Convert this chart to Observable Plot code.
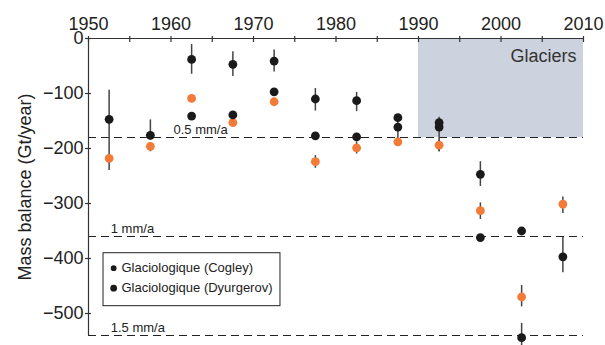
<!DOCTYPE html>
<html>
<head>
<meta charset="utf-8">
<script src="https://cdn.jsdelivr.net/npm/d3@7"></script>
<script src="https://cdn.jsdelivr.net/npm/@observablehq/plot@0.6"></script>
<style>
  html, body { margin: 0; padding: 0; background: #fff; }
  #chart svg { display: block; }
</style>
</head>
<body>
<div id="chart"></div>
<script>
// ---- data ----
const years = [1952.5, 1957.5, 1962.5, 1967.5, 1972.5, 1977.5, 1982.5, 1987.5, 1992.5, 1997.5, 2002.5, 2007.5];
// black series with error bars
const cogley     = [-147, -176, -38, -47, -41, -110, -113, -161, -153, -247, -544, -397];
const cogleyHi   = [-94, -148, -11, -24, -21, -91, -98, -150, -143, -224, -518, -362];
const cogleyLo   = [-240, -185, -65, -69, -61, -132, -133, -186, -206, -269, -560, -426];
// black series without error bars
const dyurgerov  = [NaN, NaN, -141, -139, -97, -177, -179, -144, -161, -362, -350, NaN];
// orange series
const orange     = [-218, -196, -109, -153, -115, -224, -199, -188, -194, -313, -470, -301];
const orangeHi   = [NaN, -190, NaN, NaN, NaN, -213, -188, NaN, -185, -299, -449, -288];
const orangeLo   = [NaN, -206, NaN, NaN, NaN, -236, -210, NaN, -206, -329, -488, -318];

const levels = [-180, -360, -540];
const levelLabels = ["0.5 mm/a", "1 mm/a", "1.5 mm/a"];
const levelLabelX = [1960.3, 1952.7, 1952.7];

const xTicks5 = d3.range(1950, 2011, 5);
const xTicks10 = d3.range(1950, 2011, 10);
const yTicks = [0, -100, -200, -300, -400, -500];

const legendNames = ["Glaciologique (Cogley)", "Glaciologique (Dyurgerov)"];
const legendY = [-417.5, -454];
const legendR = [2.6, 3.6];

const glacierBand = {x1: 1990, x2: 2010, y1: -180, y2: 0, label: "Glaciers"};

// ---- tables ----
const cog = years.map((x, i) => ({x, y: cogley[i], hi: cogleyHi[i], lo: cogleyLo[i]}));
const dyu = years.map((x, i) => ({x, y: dyurgerov[i]})).filter(d => Number.isFinite(d.y));
const ora = years.map((x, i) => ({x, y: orange[i], hi: orangeHi[i], lo: orangeLo[i]}));
const levelTable = levels.map((y, i) => ({y, label: levelLabels[i], x: levelLabelX[i]}));
const legendTable = legendNames.map((name, i) => ({name, y: legendY[i], r: legendR[i]}));

const ink = "#222";
const axisInk = "#333";
const orangeCol = "#f47a38";
const font = "'Liberation Sans', Arial, Helvetica, sans-serif";

const chart = Plot.plot({
  width: 605,
  height: 345,
  marginTop: 38,
  marginLeft: 88,
  marginRight: 22,
  marginBottom: 10,
  style: {fontFamily: font, background: "#fff", color: ink},
  x: {domain: [1950, 2010], axis: null},
  y: {domain: [-540, 0], axis: null},
  marks: [
    // shaded glaciers band
    Plot.rect([glacierBand], {x1: "x1", x2: "x2", y1: "y1", y2: "y2", fill: "#cdd3de"}),
    Plot.text([glacierBand], {x: "x2", y: "y2", text: "label", textAnchor: "end", lineAnchor: "top", dx: -7, dy: 11, fontSize: 18, fill: "#333"}),
    // dashed reference levels
    Plot.ruleY(levelTable, {y: "y", x1: 1950, x2: 2010, stroke: ink, strokeWidth: 1.2, strokeDasharray: "8,5"}),
    Plot.text(levelTable, {x: "x", y: "y", text: "label", textAnchor: "start", lineAnchor: "bottom", dy: -4, fontSize: 13, fill: ink}),
    // axes lines
    Plot.ruleY([0], {x1: 1950, x2: 2010, stroke: axisInk, strokeWidth: 1.2}),
    Plot.ruleX([1950], {y1: -540, y2: 0, stroke: axisInk, strokeWidth: 1.2}),
    // ticks (crossing the axis lines)
    Plot.axisX(xTicks5, {anchor: "top", tickSize: 6, dy: 3, tickFormat: () => "", stroke: axisInk, strokeWidth: 1.2}),
    Plot.axisX(xTicks10, {anchor: "top", tickSize: 0, tickPadding: 9, fontSize: 18, fill: ink, tickFormat: d => String(d)}),
    Plot.axisY(yTicks, {anchor: "left", tickSize: 6, dx: 3, tickFormat: () => "", stroke: axisInk, strokeWidth: 1.2}),
    Plot.axisY(yTicks, {anchor: "left", tickSize: 0, tickPadding: 5, fontSize: 18, fill: ink, tickFormat: d => d === 0 ? "0" : "\u2212" + Math.abs(d)}),
    Plot.text(["Mass balance (Gt/year)"], {frameAnchor: "left", textAnchor: "middle", rotate: -90, dx: -63, fontSize: 18, fill: ink}),
    // error bars
    Plot.ruleX(ora.filter(d => Number.isFinite(d.hi)), {x: "x", y1: "hi", y2: "lo", stroke: "#444", strokeWidth: 1.5}),
    Plot.ruleX(cog, {x: "x", y1: "hi", y2: "lo", stroke: "#444", strokeWidth: 1.5}),
    // points
    Plot.dot(ora, {x: "x", y: "y", r: 4.4, fill: orangeCol}),
    Plot.dot(dyu, {x: "x", y: "y", r: 4.4, fill: "#1a1a1a"}),
    Plot.dot(cog, {x: "x", y: "y", r: 4.4, fill: "#1a1a1a"}),
    // legend
    Plot.rect([{}], {x1: 1951.82, x2: 1973.27, y1: -390.4, y2: -486.7, fill: "#fff", stroke: ink, strokeWidth: 1}),
    Plot.dot(legendTable, {x: 1953.05, y: "y", r: "r", fill: "#1a1a1a"}),
    Plot.text(legendTable, {x: 1954.0, y: "y", text: "name", textAnchor: "start", fontSize: 13, fill: ink})
  ]
});
document.getElementById("chart").appendChild(chart);
</script>
</body>
</html>
